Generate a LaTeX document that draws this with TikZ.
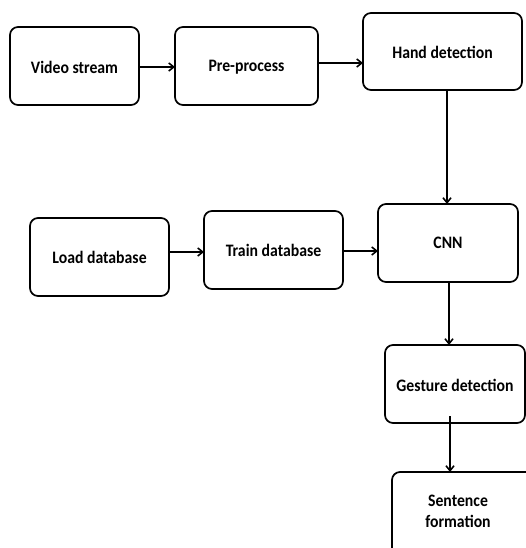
\documentclass[tikz,border=0pt]{standalone}
\usepackage{fontspec}
\setmainfont{Carlito}[FakeStretch=0.9]
\usetikzlibrary{arrows.meta}
\tikzset{
  box/.style={draw=black, line width=1.7pt, rounded corners=8pt, fill=white},
  lbl/.style={font=\bfseries\fontsize{17.5}{20}\selectfont, align=center, inner sep=0pt},
  conn/.style={draw=black, line width=1.7pt, -{Straight Barb[length=5pt,width=8pt,line width=1.6pt]}}
}
\begin{document}
\begin{tikzpicture}[x=1pt,y=-1pt]
\useasboundingbox (0,0) rectangle (526,548);
\clip (0,0) rectangle (526,548);
% boxes
\draw[box] (10,27) rectangle (139,105);
\node[lbl] (vs) at (74.5,67) {Video stream};
\coordinate (vsR) at (139,67);
\draw[box] (175,27) rectangle (318,105);
\node[lbl] (pp) at (246.5,67) {Pre-process};
\coordinate (ppL) at (175,67);
\coordinate (ppR) at (318,63);
\draw[box] (363,13) rectangle (522,90);
\node[lbl] (hd) at (442.5,52) {Hand detection};
\coordinate (hdL) at (363,63);
\coordinate (hdB) at (447,90);

\draw[box] (30,218) rectangle (169,296);
\node[lbl] (ld) at (99.5,257) {Load database};
\coordinate (ldR) at (169,252);
\draw[box] (204,211) rectangle (343,289);
\node[lbl] (td) at (273.5,250) {Train database};
\coordinate (tdL) at (204,252);
\coordinate (tdR) at (343,251);
\draw[box] (378,204) rectangle (518,282);
\node[lbl] (cnn) at (448,243) {CNN};
\coordinate (cnnL) at (378,251);
\coordinate (cnnT) at (447,204);
\coordinate (cnnB) at (449,282);

\draw[box] (385,345) rectangle (525,423);
\node[lbl] (gd) at (455,385) {Gesture detection};
\coordinate (gdT) at (449,345);
\coordinate (gdB) at (450,416);

\draw[box] (392,472) rectangle (540,560);
\node[lbl] (sf) at (458,511) {Sentence\\[1pt]formation};
\coordinate (sfT) at (450,472);

% connectors
\draw[conn] (vsR) -- (ppL);
\draw[conn] (ppR) -- (hdL);
\draw[conn] (hdB) -- (cnnT);
\draw[conn] (ldR) -- (tdL);
\draw[conn] (tdR) -- (cnnL);
\draw[conn] (cnnB) -- (gdT);
\draw[conn] (gdB) -- (sfT);
\end{tikzpicture}
\end{document}
